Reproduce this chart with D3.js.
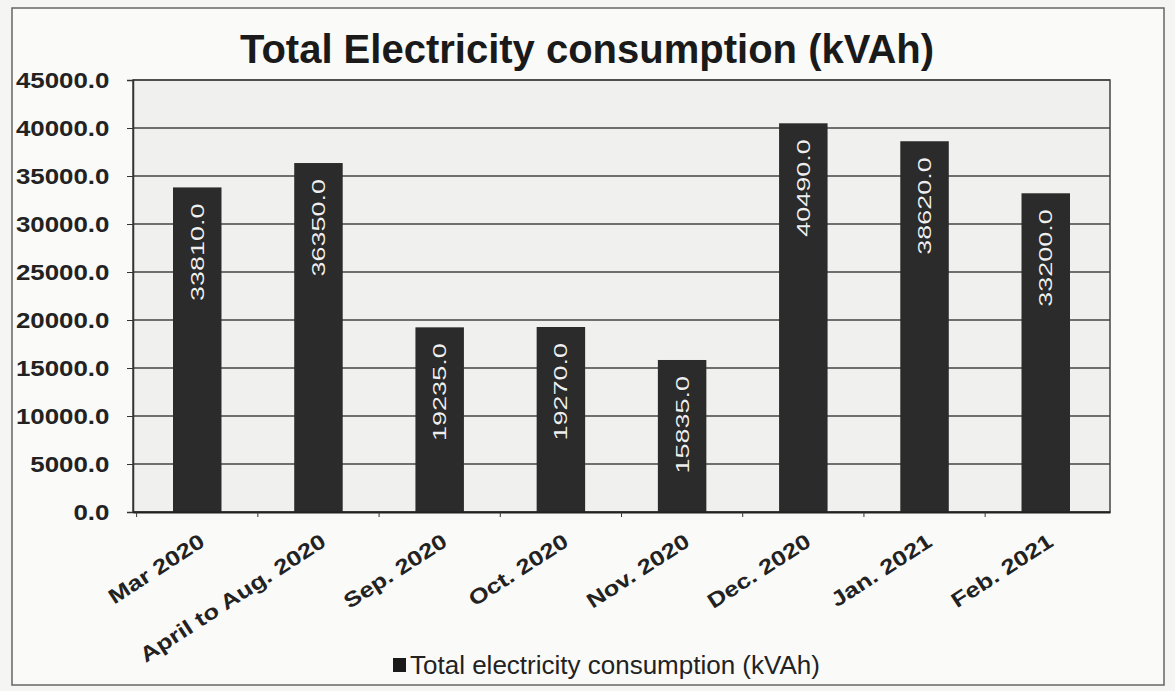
<!DOCTYPE html>
<html><head><meta charset="utf-8">
<script src="https://cdn.jsdelivr.net/npm/d3@7"></script>
<style>body{margin:0;background:#f5f5f3;}svg{display:block;font-family:"Liberation Sans",Arial,sans-serif;}</style>
</head><body><svg id="c" width="1175" height="691"></svg>
<script>
const categories = ["Mar 2020","April to Aug. 2020","Sep. 2020","Oct. 2020","Nov. 2020","Dec. 2020","Jan. 2021","Feb. 2021"];
const values = [33810, 36350, 19235, 19270, 15835, 40490, 38620, 33200];
const yTicks = [0,5000,10000,15000,20000,25000,30000,35000,40000,45000];
const seriesName = "Total electricity consumption (kVAh)";
const title = "Total Electricity consumption (kVAh)";

const svg = d3.select("#c");
const m = {left:133, right:1110, top:80, bottom:512};
svg.append("rect").attr("x",0).attr("y",0).attr("width",1175).attr("height",691).attr("fill","#f5f5f3");
svg.append("rect").attr("x",12).attr("y",8).attr("width",1152).attr("height",677).attr("fill","#fafaf8").attr("stroke","#666").attr("stroke-width",1.5);

const x = d3.scaleBand().domain(categories).range([m.left,m.right]).paddingInner(0.6).paddingOuter(0.33);
const y = d3.scaleLinear().domain([0,45000]).range([m.bottom,m.top]);

svg.append("rect").attr("x",m.left).attr("y",m.top).attr("width",m.right-m.left).attr("height",m.bottom-m.top).attr("fill","#f0f0ee").attr("stroke","#444").attr("stroke-width",1.5);

// gridlines
svg.append("g").selectAll("line").data(yTicks).join("line")
  .attr("x1",m.left).attr("x2",m.right).attr("y1",d=>y(d)).attr("y2",d=>y(d))
  .attr("stroke","#444").attr("stroke-width",1.6);

// y axis
const ya = svg.append("g").attr("transform",`translate(${m.left},0)`)
  .call(d3.axisLeft(y).tickValues(yTicks).tickFormat(d3.format(".1f")).tickSize(6).tickPadding(17));
ya.select(".domain").attr("stroke","#333").attr("stroke-width",1.5);
ya.selectAll("line").attr("stroke","#333");
ya.selectAll("text").attr("font-size",22.5).attr("font-weight","bold").attr("fill","#222")
  .attr("font-family","Liberation Sans, Arial, sans-serif")
  .attr("x",-20.5).attr("transform","scale(1.15,1)");

// bars
svg.append("g").selectAll("rect").data(values).join("rect")
  .attr("x",(d,i)=>x(categories[i])).attr("width",x.bandwidth())
  .attr("y",d=>y(d)).attr("height",d=>y(0)-y(d))
  .attr("fill","#2b2b2b");

// value labels
svg.append("g").selectAll("text").data(values).join("text")
  .attr("transform",(d,i)=>`translate(${x(categories[i])+x.bandwidth()/2+6.5},${y(d)+16}) rotate(-90) scale(1.5,1)`)
  .attr("text-anchor","end").attr("font-size",18).attr("fill","#eeeeee")
  .attr("stroke","#111").attr("stroke-width",0.5).attr("paint-order","stroke")
  .text(d=>d3.format(".1f")(d));

// x axis
const xa = svg.append("g").attr("transform",`translate(0,${m.bottom})`)
  .call(d3.axisBottom(x).tickSize(5).tickSizeOuter(0));
xa.select(".domain").attr("stroke","#222").attr("stroke-width",2);
xa.selectAll(".tick line").attr("stroke","#333").attr("transform",`translate(${-x.step()/2},0)`);
xa.selectAll("text").attr("font-size",21).attr("font-weight","bold").attr("fill","#222")
  .attr("font-family","Liberation Sans, Arial, sans-serif")
  .attr("text-anchor","end").attr("dy",0).attr("y",0)
  .attr("transform","translate(9,33) rotate(-33) scale(1.22,1)");

// title
svg.append("text").attr("x",587).attr("y",63).attr("text-anchor","middle")
  .attr("font-size",40).attr("font-weight","bold").attr("fill","#1a1a1a").text(title);

// legend
const lg = svg.append("g").attr("transform","translate(393,674)");
lg.append("rect").attr("x",0).attr("y",-16).attr("width",13).attr("height",14).attr("fill","#1a1a1a");
lg.append("text").attr("x",17).attr("y",0).attr("font-size",26).attr("fill","#222").text(seriesName);
</script></body></html>
